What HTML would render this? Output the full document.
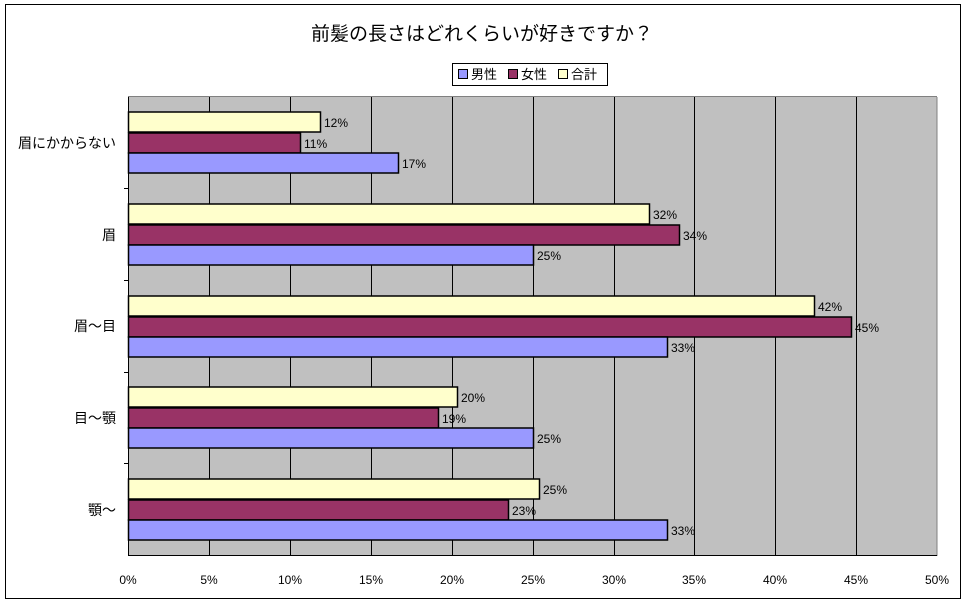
<!DOCTYPE html>
<html><head><meta charset="utf-8"><style>
html,body{margin:0;padding:0;background:#fff;}
svg{display:block;font-family:"Liberation Sans","Noto Sans CJK JP",sans-serif;}
</style></head><body>
<svg width="966" height="603" viewBox="0 0 966 603">
<rect x="5.5" y="4.5" width="955" height="594" fill="#fff" stroke="#000" stroke-width="1"/>
<text x="482" y="40" font-size="19" text-anchor="middle" fill="#000">前髪の長さはどれくらいが好きですか？</text>
<rect x="452.5" y="63.5" width="155" height="22" fill="#fff" stroke="#000"/>
<rect x="458.5" y="69.5" width="9" height="9" fill="#9999FF" stroke="#000"/>
<text x="471" y="79" font-size="13">男性</text>
<rect x="508.5" y="69.5" width="9" height="9" fill="#993366" stroke="#000"/>
<text x="521" y="79" font-size="13">女性</text>
<rect x="558.5" y="69.5" width="9" height="9" fill="#FFFFCC" stroke="#000"/>
<text x="571" y="79" font-size="13">合計</text>
<rect x="128" y="97" width="809" height="459" fill="#C0C0C0"/>
<g stroke="#000" stroke-width="1">
<line x1="209.5" y1="97" x2="209.5" y2="556"/>
<line x1="290.5" y1="97" x2="290.5" y2="556"/>
<line x1="371.5" y1="97" x2="371.5" y2="556"/>
<line x1="452.5" y1="97" x2="452.5" y2="556"/>
<line x1="533.5" y1="97" x2="533.5" y2="556"/>
<line x1="614.5" y1="97" x2="614.5" y2="556"/>
<line x1="694.5" y1="97" x2="694.5" y2="556"/>
<line x1="775.5" y1="97" x2="775.5" y2="556"/>
<line x1="856.5" y1="97" x2="856.5" y2="556"/>
<line x1="937" y1="97" x2="937" y2="556" stroke="#808080"/>
<line x1="128" y1="96.5" x2="937" y2="96.5" stroke="#808080"/>
<line x1="128.5" y1="97" x2="128.5" y2="556"/>
<line x1="128" y1="555.5" x2="937" y2="555.5"/>
<line x1="124" y1="188.5" x2="128" y2="188.5"/>
<line x1="124" y1="280.5" x2="128" y2="280.5"/>
<line x1="124" y1="372.5" x2="128" y2="372.5"/>
<line x1="124" y1="463.5" x2="128" y2="463.5"/>
</g>
<g stroke="#000" stroke-width="1.5" font-size="12">
<rect x="128.5" y="112" width="192" height="20" fill="#FFFFCC"/>
<rect x="128.5" y="133" width="172" height="20" fill="#993366"/>
<rect x="128.5" y="153" width="270" height="20" fill="#9999FF"/>
<rect x="128.5" y="204" width="521" height="20" fill="#FFFFCC"/>
<rect x="128.5" y="225" width="551" height="20" fill="#993366"/>
<rect x="128.5" y="245" width="405" height="20" fill="#9999FF"/>
<rect x="128.5" y="296" width="686" height="20" fill="#FFFFCC"/>
<rect x="128.5" y="317" width="723" height="20" fill="#993366"/>
<rect x="128.5" y="337" width="539" height="20" fill="#9999FF"/>
<rect x="128.5" y="387" width="329" height="20" fill="#FFFFCC"/>
<rect x="128.5" y="408" width="310" height="20" fill="#993366"/>
<rect x="128.5" y="428" width="405" height="20" fill="#9999FF"/>
<rect x="128.5" y="479" width="411" height="20" fill="#FFFFCC"/>
<rect x="128.5" y="500" width="380" height="20" fill="#993366"/>
<rect x="128.5" y="520" width="539" height="20" fill="#9999FF"/>
</g>
<g font-size="12" fill="#000">
<text x="324" y="127">12%</text><text x="304" y="148">11%</text><text x="402" y="168">17%</text>
<text x="653" y="219">32%</text><text x="683" y="240">34%</text><text x="537" y="260">25%</text>
<text x="818" y="311">42%</text><text x="855" y="332">45%</text><text x="671" y="352">33%</text>
<text x="461" y="402">20%</text><text x="442" y="423">19%</text><text x="537" y="443">25%</text>
<text x="543" y="494">25%</text><text x="512" y="515">23%</text><text x="671" y="535">33%</text>
</g>
<g font-size="14" text-anchor="end" fill="#000">
<text x="116" y="148">眉にかからない</text>
<text x="116" y="240">眉</text>
<text x="116" y="331">眉～目</text>
<text x="116" y="423">目～顎</text>
<text x="116" y="515">顎～</text>
</g>
<g font-size="12" text-anchor="middle" fill="#000">
<text x="128" y="584">0%</text><text x="209" y="584">5%</text><text x="290" y="584">10%</text>
<text x="371" y="584">15%</text><text x="452" y="584">20%</text><text x="533" y="584">25%</text>
<text x="614" y="584">30%</text><text x="694" y="584">35%</text><text x="775" y="584">40%</text>
<text x="856" y="584">45%</text><text x="937" y="584">50%</text>
</g>
</svg>
</body></html>
